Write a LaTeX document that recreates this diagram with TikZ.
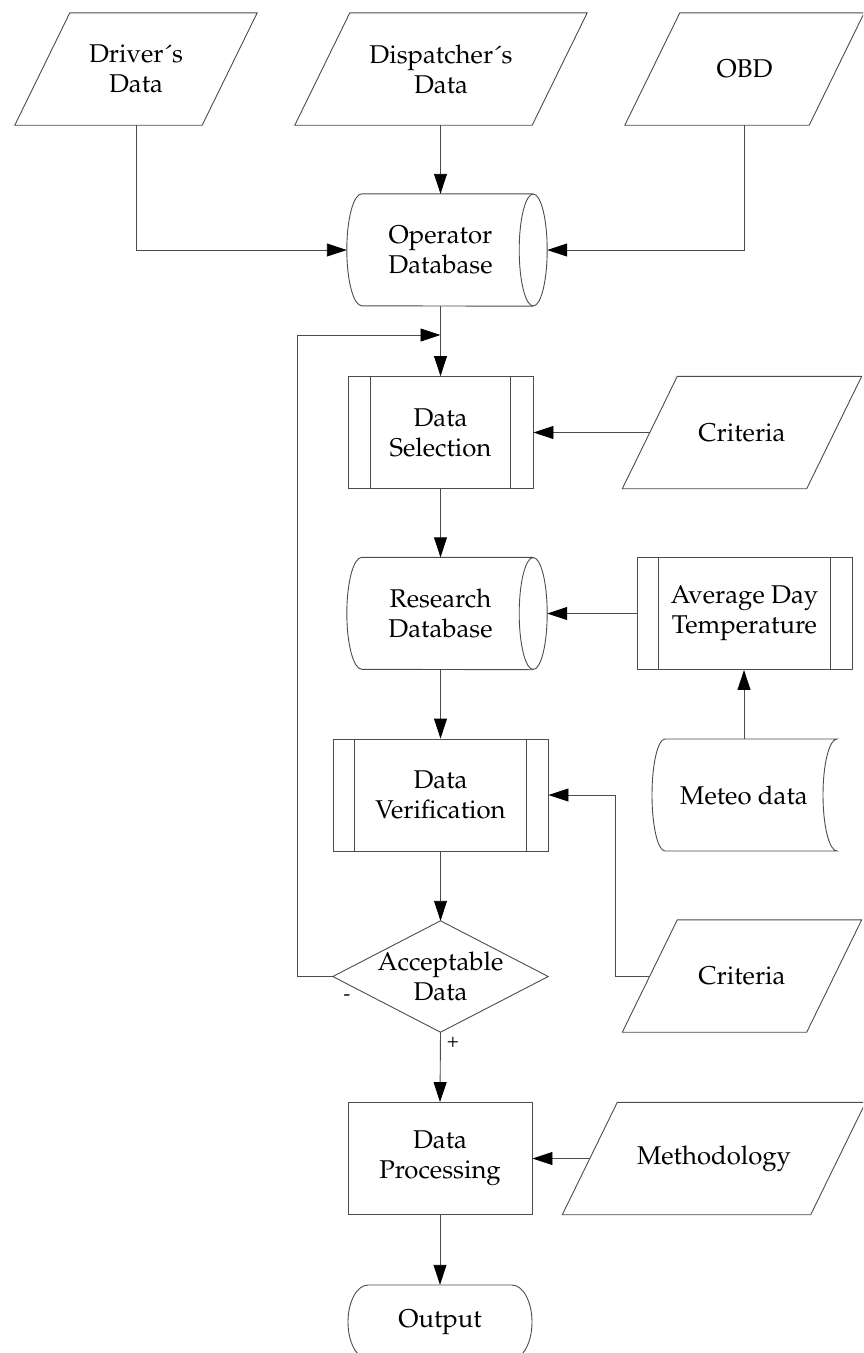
\documentclass[tikz,border=0pt]{standalone}
\usepackage[T1]{fontenc}
\usepackage{mathpazo}
\usetikzlibrary{arrows.meta,calc}
\definecolor{lc}{gray}{0.3}
\newcommand\fs{\fontsize{25.7}{30}\selectfont}
\newcommand\parashape[2]{\draw[shp] ([xshift=#2]#1.north west) -- ([xshift=#2]#1.north east) -- ([xshift=-#2]#1.south east) -- ([xshift=-#2]#1.south west) -- cycle;}
\newcommand\procshape[2]{\draw[shp] ([xshift=#2]#1.north west) -- ([xshift=#2]#1.south west) ([xshift=-#2]#1.north east) -- ([xshift=-#2]#1.south east);}
\newcommand\dbshape[1]{%
  \draw[shp] ([xshift=14pt]#1.north east) -- (#1.north west) arc[start angle=270,end angle=90,x radius=15,y radius=56] -- ([xshift=14pt]#1.south east);
  \draw[shp] ([xshift=14pt]#1.east) ellipse [x radius=14, y radius=56];}
\tikzset{
  shp/.style={draw=lc, line width=0.9pt},
  txt/.style={align=center, font=\fs, inner sep=0pt, minimum height=112pt},
  box/.style={txt, shp},
  arr/.style={draw=lc, line width=0.9pt, -{Triangle[length=20pt,width=13pt,color=black]}},
}
\begin{document}
\begin{tikzpicture}[x=1pt,y=-1pt]
\useasboundingbox (0,0) rectangle (863,1353);
\clip (0,0) rectangle (863,1353);
% top inputs
\node[txt, minimum width=187pt] (drv) at (136,69) {Driver\'{}s\\Data};
\node[txt, minimum width=237pt] (dsp) at (441,69) {Dispatcher\'{}s\\Data};
\node[txt, minimum width=184pt] (obd) at (744.5,69) {OBD};
\parashape{drv}{27.5pt}
\parashape{dsp}{27.5pt}
\parashape{obd}{27.5pt}
% operator database
\node[txt, minimum width=157pt] (db1) at (440.5,250) {Operator\\Database};
\dbshape{db1}
\coordinate (db1l) at ([xshift=-15pt]db1.west);
\coordinate (db1r) at ([xshift=28pt]db1.east);
% data selection
\node[box, minimum width=185pt] (ds) at (440.5,432.5) {Data\\Selection};
\procshape{ds}{23pt}
\node[txt, minimum width=184pt] (cr1) at (742,432.5) {Criteria};
\parashape{cr1}{27.5pt}
% research database
\node[txt, minimum width=157pt] (rdb) at (440.5,613.5) {Research\\Database};
\dbshape{rdb}
\coordinate (rdbr) at ([xshift=28pt]rdb.east);
\node[box, minimum width=215pt] (adt) at (744.5,613.5) {Average Day\\Temperature};
\procshape{adt}{22pt}
% meteo data
\node[txt, minimum width=172pt] (met) at (744,795) {Meteo data};
\draw[shp] ($(met)+(-79,-56)$) -- ($(met)+(93,-56)$) arc[start angle=270,end angle=90,x radius=14,y radius=56] -- ($(met)+(-79,56)$) arc[start angle=90,end angle=270,x radius=13,y radius=56] -- cycle;
% data verification
\node[box, minimum width=215pt] (dv) at (440.5,795) {Data\\Verification};
\procshape{dv}{22pt}
\node[txt, minimum width=184pt] (cr2) at (742,976) {Criteria};
\parashape{cr2}{27.5pt}
% decision
\node[txt, minimum width=215pt, minimum height=111pt] (acc) at (440.5,976.5) {Acceptable\\Data};
\draw[shp] (acc.north) -- (acc.east) -- (acc.south) -- (acc.west) -- cycle;
\node[font=\fontsize{20}{24}\selectfont, inner sep=0pt] (mn) at (347,998) {-};
\node[font=\fontsize{20}{24}\selectfont, inner sep=0pt] (pl) at (453,1042) {+};
% processing
\node[box, minimum width=184pt] (dp) at (440,1158.5) {Data\\Processing};
\node[txt, minimum width=248pt] (meth) at (714,1158.5) {Methodology};
\parashape{meth}{27.5pt}
% output
\node[txt, minimum width=184pt, minimum height=74pt] (out) at (440,1322) {Output};
\draw[shp] ($(out)+(-72,-37)$) -- ($(out)+(72,-37)$) arc[start angle=270,end angle=450,x radius=20,y radius=37] -- ($(out)+(-72,37)$) arc[start angle=90,end angle=270,x radius=20,y radius=37] -- cycle;
% connectors
\coordinate (jn) at (440.5,335);
\coordinate (lp) at (297,335);
\draw[arr] (drv.south) |- (db1l);
\draw[arr] (db1.north |- dsp.south) -- (db1.north);
\draw[arr] (obd.south) |- (db1r);
\draw[arr] (db1.south) -- (ds.north);
\draw[arr] (acc.west) -- (lp |- acc.west) -- (lp) -- (jn);
\draw[arr] (cr1.west) -- (ds.east);
\draw[arr] (ds.south) -- (rdb.north);
\draw[arr] (adt.west) -- (rdbr);
\draw[arr] (met.north) -- (met.north |- adt.south);
\draw[arr] (rdb.south) -- (dv.north);
\draw[arr] (cr2.west) -- ++(-34,0) |- (dv.east);
\draw[arr] (dv.south) -- (acc.north);
\draw[arr] (acc.south) -- (dp.north);
\draw[arr] (meth.west) -- (dp.east);
\draw[arr] (dp.south) -- (out.north);
\end{tikzpicture}
\end{document}
